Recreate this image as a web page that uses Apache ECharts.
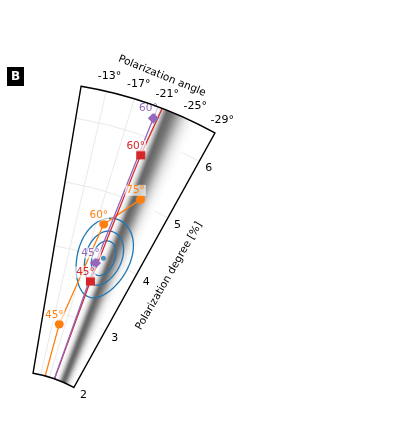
<!DOCTYPE html>
<html>
<head>
<meta charset="utf-8">
<script src="https://cdn.jsdelivr.net/npm/echarts@6/dist/echarts.min.js"></script>
<style>
html, body { margin: 0; padding: 0; background: #fff; }
#chart { width: 413px; height: 432px; }
</style>
</head>
<body>
<div id="chart"></div>
<script>
// axes
const angleRange = [-29, -9.5];
const angleStep = 4;
const angleTicks = [-29, -25, -21, -17, -13];
const radiusRange = [2, 6.5];

// measurements: polarization degree [%] and angle [deg]
const orangeDegree = [1.6, 2.83, 4.51, 5.07];
const orangeAngle = [-15.1, -15.12, -18.46, -23.22];
const orangeLabels = [null, '45°', '60°', '75°'];

const redDegree = [1.6, 3.61, 5.71, 7.0];
const redAngle = [-19.3, -19.8, -20.51, -21.3];
const redLabels = [null, '45°', '60°', null];

const purpleDegree = [1.6, 3.9, 6.31, 7.0];
const purpleAngle = [-19.4, -19.49, -20.36, -20.55];
const purpleLabels = [null, '45°', '60°', null];

// blue contours around the fitted value
const contourCenter = [4.01, -20.79];
const contourHalfDegree = [0.28, 0.435, 0.64];
const contourHalfAngle = [2.5, 4.0, 5.85];

// gray band (model spread), given at inner and outer radius
const bandDegree = [2, 6.5];
const bandCenter = [-23.5, -21.9];
const bandSpreadLeft = [1.3, 0.55];
const bandSpreadRight = [1.5, 1.4];

const FONT = 'DejaVu Sans';
const chart = echarts.init(document.getElementById('chart'));

function pointSeries(name, color, symbol, size, degree, angle, labels) {
    const data = degree.map((d, i) => {
        const item = {value: [d, angle[i]]};
        if (labels[i] === null) {
            item.symbol = 'none';
            item.label = {show: false};
        }
        return item;
    });
    return {
        name: name,
        type: 'line',
        coordinateSystem: 'polar',
        data: data,
        symbol: symbol,
        symbolSize: size,
        clip: true,
        z: 5,
        lineStyle: {color: color, width: 1.3},
        itemStyle: {color: color},
        label: {
            show: true,
            position: 'top',
            distance: 0,
            offset: [-5, 1],
            color: color,
            fontFamily: FONT,
            fontSize: 10.5,
            backgroundColor: 'rgba(255,255,255,0.65)',
            padding: [0, 1],
            formatter: p => labels[p.dataIndex] || ''
        }
    };
}

function renderBand(params, api) {
    const n = 40;
    const children = [];
    const th = (u, j) => bandCenter[j] + (u >= 0 ? u * bandSpreadLeft[j] : u * bandSpreadRight[j]);
    for (let k = -n; k < n; k++) {
        const u0 = k / n * 3, u1 = (k + 1) / n * 3;
        const um = (u0 + u1) / 2;
        const pts = [
            api.coord([bandDegree[0], th(u0, 0)]),
            api.coord([bandDegree[0], th(u1, 0)]),
            api.coord([bandDegree[1], th(u1, 1)]),
            api.coord([bandDegree[1], th(u0, 1)])
        ];
        const g = Math.round(255 - 150 * Math.exp(-um * um / 2));
        const c = 'rgb(' + g + ',' + g + ',' + g + ')';
        children.push({type: 'polygon', shape: {points: pts}, style: {fill: c, stroke: c, lineWidth: 0.6}});
    }
    return {type: 'group', children: children};
}

function renderContour(params, api) {
    const r0 = api.value(0), a0 = api.value(1);
    const dr = api.value(2), da = api.value(3);
    const pts = [];
    for (let i = 0; i <= 72; i++) {
        const t = i / 72 * Math.PI * 2;
        pts.push(api.coord([r0 + dr * Math.sin(t), a0 + da * Math.cos(t)]));
    }
    return {type: 'polyline', shape: {points: pts}, style: {fill: 'none', stroke: '#1f77b4', lineWidth: 1.3}};
}

function renderFrame(params, api) {
    const cs = params.coordSys;
    const pA = api.coord([radiusRange[1], angleRange[1]]);
    const pB = api.coord([radiusRange[1], angleRange[0]]);
    const a1 = Math.atan2(pA[1] - cs.cy, pA[0] - cs.cx);
    const a2 = Math.atan2(pB[1] - cs.cy, pB[0] - cs.cx);
    return {
        type: 'sector',
        shape: {cx: cs.cx, cy: cs.cy, r0: cs.r0, r: cs.r, startAngle: a1, endAngle: a2, clockwise: true},
        style: {fill: 'none', stroke: '#000', lineWidth: 1.4}
    };
}

// angle tick labels centred just outside the outer arc
function renderAngleLabel(params, api) {
    const cs = params.coordSys;
    const a = api.value(1);
    const p = api.coord([radiusRange[1], a]);
    const dx = p[0] - cs.cx, dy = p[1] - cs.cy;
    const len = Math.sqrt(dx * dx + dy * dy);
    return {
        type: 'text',
        x: p[0] + dx / len * 15,
        y: p[1] + dy / len * 15,
        style: {text: a + '°', fill: '#000', font: '11px "DejaVu Sans"', align: 'center', verticalAlign: 'middle'}
    };
}

const option = {
    animation: false,
    backgroundColor: '#fff',
    textStyle: {fontFamily: FONT},
    polar: {
        center: [12, 499],
        radius: [127.5, 418.5]
    },
    angleAxis: {
        type: 'value',
        min: angleRange[0],
        max: angleRange[1],
        interval: angleStep,
        startAngle: 90 + angleRange[0],
        endAngle: 90 + angleRange[1],
        clockwise: false,
        axisLine: {show: false},
        axisTick: {show: false},
        axisLabel: {show: false},
        splitLine: {show: true, lineStyle: {color: '#e3e3e3', width: 0.8}}
    },
    radiusAxis: {
        type: 'value',
        min: radiusRange[0],
        max: radiusRange[1],
        interval: 1,
        axisLine: {show: false},
        axisTick: {show: false},
        axisLabel: {
            margin: -15,
            color: '#000',
            fontFamily: FONT,
            fontSize: 11,
            formatter: v => Number.isInteger(v) ? String(v) : ''
        },
        splitLine: {show: true, lineStyle: {color: '#e3e3e3', width: 0.8}}
    },
    graphic: [
        {type: 'rect', shape: {x: 7, y: 67, width: 17, height: 19}, style: {fill: '#000'}},
        {type: 'text', x: 15.5, y: 76.5, style: {text: 'B', fill: '#fff', font: 'bold 12px "DejaVu Sans"', align: 'center', verticalAlign: 'middle'}},
        {type: 'text', x: 162, y: 76, rotation: -22 * Math.PI / 180,
            style: {text: 'Polarization angle', fill: '#000', font: '10.5px "DejaVu Sans"', align: 'center', verticalAlign: 'middle'}},
        {type: 'text', x: 169, y: 276, rotation: 60 * Math.PI / 180,
            style: {text: 'Polarization degree [%]', fill: '#000', font: '10.5px "DejaVu Sans"', align: 'center', verticalAlign: 'middle'}}
    ],
    series: [
        {
            type: 'custom',
            coordinateSystem: 'polar',
            clip: true,
            z: 1,
            silent: true,
            data: [[bandDegree[0], bandCenter[0]]],
            renderItem: renderBand
        },
        {
            type: 'custom',
            coordinateSystem: 'polar',
            clip: true,
            z: 3,
            silent: true,
            data: contourHalfDegree.map((d, i) => [contourCenter[0], contourCenter[1], d, contourHalfAngle[i]]),
            encode: {radius: 0, angle: 1},
            renderItem: renderContour
        },
        {
            type: 'scatter',
            coordinateSystem: 'polar',
            z: 3,
            symbolSize: 5,
            itemStyle: {color: '#1f77b4'},
            data: [contourCenter]
        },
        pointSeries('orange', '#ff7f0e', 'circle', 9, orangeDegree, orangeAngle, orangeLabels),
        pointSeries('red', '#d62728', 'rect', 9, redDegree, redAngle, redLabels),
        pointSeries('purple', '#9467bd', 'diamond', 11, purpleDegree, purpleAngle, purpleLabels),
        {
            type: 'custom',
            coordinateSystem: 'polar',
            z: 10,
            silent: true,
            data: [[radiusRange[1], angleRange[0]]],
            renderItem: renderFrame
        },
        {
            type: 'custom',
            coordinateSystem: 'polar',
            z: 10,
            clip: false,
            silent: true,
            data: angleTicks.map(a => [radiusRange[1], a]),
            encode: {radius: 0, angle: 1},
            renderItem: renderAngleLabel
        }
    ]
};
chart.setOption(option);
</script>
</body>
</html>
